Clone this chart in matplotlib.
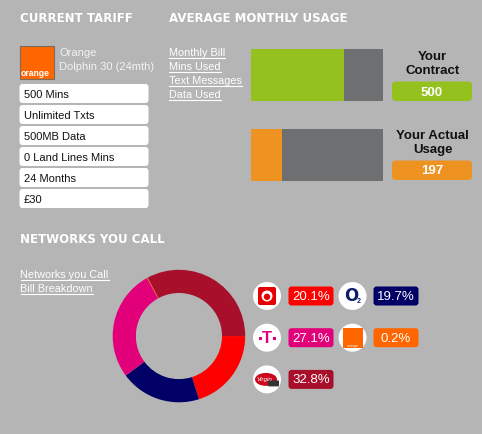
import matplotlib
matplotlib.use("Agg")
import matplotlib.pyplot as plt
from matplotlib.patches import FancyBboxPatch, Circle, Rectangle, Ellipse

W, H = 482, 435
BG = "#b5b5b5"

# tariff panel
tariff_name = ["Orange", "Dolphin 30 (24mth)"]
tariff_items = ["500 Mins", "Unlimited Txts", "500MB Data", "0 Land Lines Mins", "24 Months", "£30"]

# usage panel
usage_links = ["Monthly Bill", "Mins Used", "Text Messages", "Data Used"]
usage_labels = ["Your\nContract", "Your Actual\nUsage"]
usage_values = [500, 197]
usage_fill = [0.705, 0.24]  # part of each bar that is coloured, as drawn
usage_colors = ["#95c11f", "#ee9322"]

# networks panel
network_links = ["Networks you Call", "Bill Breakdown"]
networks = ["Vodafone", "O2", "T-Mobile", "Orange", "Virgin"]
network_share = [20.1, 19.7, 27.1, 0.2, 32.8]
network_colors = ["#ff0000", "#000066", "#e2007a", "#ff6600", "#a80f2a"]

HEAD = dict(color="white", fontsize=8.5, fontweight="bold", family="DejaVu Sans", va="center")
BODY = "Liberation Sans"

fig = plt.figure(figsize=(W / 100, H / 100), dpi=100, facecolor=BG)
ax = fig.add_axes([0, 0, 1, 1])
ax.set_xlim(0, W)
ax.set_ylim(H, 0)
ax.set_facecolor(BG)
ax.axis("off")
renderer = fig.canvas.get_renderer()


def rbox(x0, y0, w, h, color, r=3, z=2):
    ax.add_patch(FancyBboxPatch((x0 + r, y0 + r), w - 2 * r, h - 2 * r,
                                boxstyle=f"round,pad={r}", fc=color, ec="none", zorder=z))


def link(x, y, s):
    t = ax.text(x, y, s, color="white", fontsize=7.8, family=BODY, va="center")
    bb = t.get_window_extent(renderer).transformed(ax.transData.inverted())
    ax.plot([bb.x0, bb.x1], [y + 5.8, y + 5.8], color="white", lw=0.8)


# headers
ax.text(20, 18, "CURRENT TARIFF", **HEAD)
ax.text(169, 18, "AVERAGE MONTHLY USAGE", **HEAD)
ax.text(20, 240, "NETWORKS YOU CALL", **HEAD)

# orange logo + tariff name
ax.add_patch(Rectangle((19.5, 46.5), 34, 33, fc="#ff6600", ec="#7a6a60", lw=0.8))
ax.text(20.5, 73.5, "orange", color="white", fontsize=6.2, fontweight="bold", family=BODY, va="center")
for i, s in enumerate(tariff_name):
    ax.text(59, 53 + i * 14, s, color="#f2f2f2", fontsize=8, family=BODY, va="center")

# tariff rows
for i, s in enumerate(tariff_items):
    top = 85 + i * 21
    rbox(19.5, top, 129, 19, "white")
    ax.text(23.5, top + 9.8, s, color="#111111", fontsize=8, family=BODY, va="center", zorder=3)

# links
for i, s in enumerate(usage_links):
    link(169, 53 + i * 14, s)

for i, s in enumerate(network_links):
    link(20.5, 275 + i * 14, s)

# usage bars
axb = fig.add_axes([250.7 / W, 1 - 181.7 / H, 132 / W, 131.7 / H])
ypos = list(range(len(usage_fill)))
axb.barh(ypos, [1] * len(ypos), height=0.646, color="#6d6f71")
axb.barh(ypos, usage_fill, height=0.646, color=usage_colors)
axb.set_xlim(0, 1)
axb.set_ylim(1.323, -0.323)
axb.axis("off")

for i, (lab, val, col) in enumerate(zip(usage_labels, usage_values, usage_colors)):
    base = i * 79
    for j, line in enumerate(lab.split("\n")):
        ax.text(432.5, 57.5 + base + j * 14, line, ha="center", va="center", fontsize=9.5,
                fontweight="bold", family=BODY, color="#111111")
    rbox(392, 82.5 + base, 80, 19.5, col, r=4)
    ax.text(432, 92.5 + base, str(val), ha="center", va="center", fontsize=9.5, fontweight="bold",
            family=BODY, color="white", zorder=3)

# donut
axd = fig.add_axes([112.7 / W, 1 - 403.3 / H, 132.5 / W, 132.5 / H])
axd.pie(network_share, colors=network_colors, startangle=0, counterclock=False, radius=1,
        wedgeprops=dict(width=0.35, edgecolor="none"))
axd.set_xlim(-1, 1)
axd.set_ylim(-1, 1)
axd.axis("off")


def icon(name, cx, cy):
    ax.add_patch(Circle((cx, cy), 14, fc="white", ec="none", zorder=2))
    if name == "Vodafone":
        rbox(cx - 9, cy - 9, 18, 18, "#e60000", r=2, z=3)
        ax.add_patch(Circle((cx, cy), 5.5, fc="white", ec="none", zorder=4))
        ax.add_patch(Circle((cx, cy + 0.8), 3.2, fc="#e60000", ec="none", zorder=5))
    elif name == "O2":
        ax.text(cx - 1.5, cy - 0.5, "O", ha="center", va="center", color="#0b1f6b", fontsize=12,
                family="DejaVu Sans", fontweight="bold", zorder=3)
        ax.text(cx + 6.5, cy + 5, "2", ha="center", va="center", color="#0b1f6b", fontsize=5,
                family=BODY, fontweight="bold", zorder=3)
    elif name == "T-Mobile":
        ax.text(cx, cy, "T", ha="center", va="center", color="#e2007a", fontsize=12,
                family=BODY, fontweight="bold", zorder=3)
        for dx in (-7, 7):
            ax.add_patch(Rectangle((cx + dx - 1.5, cy - 0.5), 3, 3, fc="#e2007a", ec="none", zorder=3))
    elif name == "Orange":
        ax.add_patch(Rectangle((cx - 10, cy - 10), 20, 20, fc="#ff6600", ec="none", zorder=3))
        ax.text(cx, cy + 7, "orange", ha="center", va="center", color="white", fontsize=2.8,
                family=BODY, zorder=4)
    else:
        ax.add_patch(Ellipse((cx - 1, cy), 22, 13, fc="#cc0a1e", ec="none", zorder=3))
        rbox(cx + 1, cy + 1, 11, 6, "#333333", r=1, z=4)
        ax.text(cx - 3, cy - 1, "Virgin", ha="center", va="center", color="white", fontsize=4.5,
                style="italic", family=BODY, zorder=5)


for i, (name, share, col) in enumerate(zip(networks, network_share, network_colors)):
    c, r = i % 2, i // 2
    cx = 267 + c * 85.5
    cy = 297 + r * 41.7
    icon(name, cx, cy)
    rbox(288.5 + c * 85, cy - 9.5, 45, 19, col, r=3)
    ax.text(311 + c * 85, cy, f"{share:.1f}%", ha="center", va="center", color="white",
            fontsize=9.5, family=BODY, zorder=3)

fig.savefig("out.png", dpi=100, facecolor=BG)
